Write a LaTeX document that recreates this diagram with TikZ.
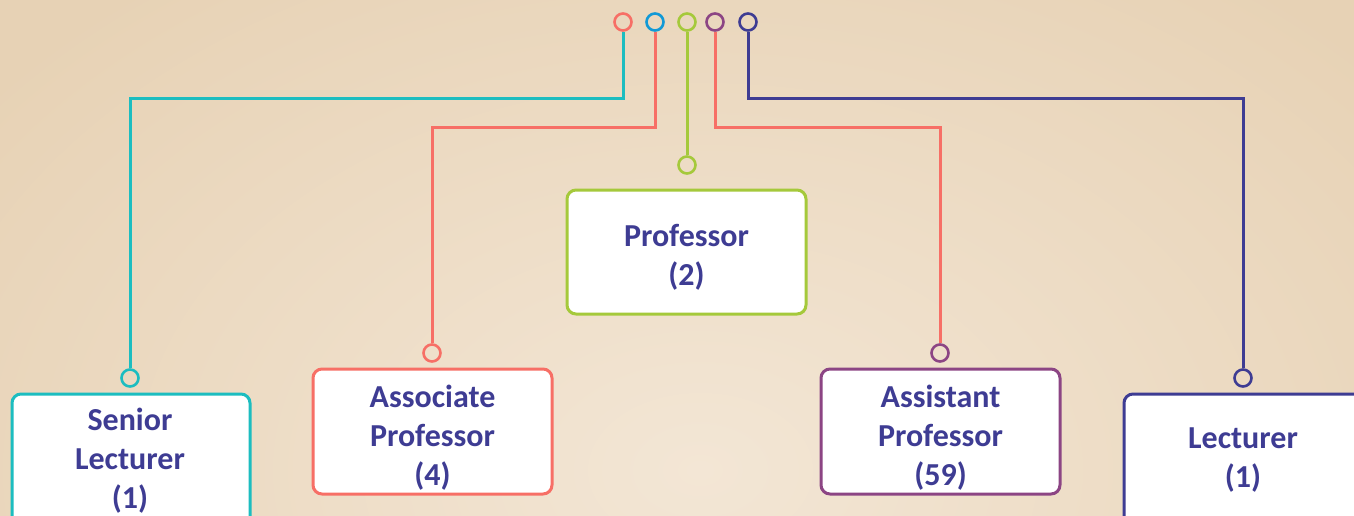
\documentclass[tikz,border=0pt]{standalone}
\usepackage{fontspec}
\setmainfont{Carlito}
\begin{document}
\begin{tikzpicture}[x=1pt,y=-1pt,
  conn/.style={line width=3pt},
  ring/.style={circle,draw,line width=2.6pt,minimum size=17pt,inner sep=0pt,fill=none},
  lbl/.style={font=\fontsize{32}{39}\selectfont\bfseries,text=navy,align=center,inner sep=0pt},
  card/.style={draw,line width=3pt,rounded corners=9pt,fill=white},
]
\definecolor{teal}{HTML}{1CBDC0}
\definecolor{salmon}{HTML}{F76F66}
\definecolor{lime}{HTML}{A5C93B}
\definecolor{plum}{HTML}{8C4584}
\definecolor{navy}{HTML}{3E3C93}
\definecolor{skyb}{HTML}{1199D6}
\definecolor{bgin}{HTML}{F3E6D5}
\definecolor{bgout}{HTML}{E7D2B5}
\useasboundingbox (0,0) rectangle (1354,515);
\begin{scope}
\clip (0,0) rectangle (1354,515);
\fill[bgout] (0,0) rectangle (1354,515);
\shade[inner color=bgin,outer color=bgout] (700,470) ellipse [x radius=900,y radius=620];
\end{scope}
% top rings
\node[ring,draw=salmon] (t1) at (623,22) {};
\node[ring,draw=skyb] (t2) at (655,22) {};
\node[ring,draw=lime] (t3) at (687,22) {};
\node[ring,draw=plum] (t4) at (715,22) {};
\node[ring,draw=navy] (t5) at (748,22) {};
% bottom rings
\node[ring,draw=teal] (b1) at (130,378) {};
\node[ring,draw=salmon] (b2) at (432,353) {};
\node[ring,draw=lime] (b3) at (687,165) {};
\node[ring,draw=plum] (b4) at (940,353) {};
\node[ring,draw=navy] (b5) at (1243,378) {};
% connectors
\draw[conn,teal] (t1.south) |- (130,98) -- (b1.north);
\draw[conn,salmon] (t2.south) |- (432,127) -- (b2.north);
\draw[conn,lime] (t3.south) -- (b3.north);
\draw[conn,salmon] (t4.south) |- (940,127) -- (b4.north);
\draw[conn,navy] (t5.south) |- (1243,98) -- (b5.north);
% cards
\draw[card,draw=teal] (12,394) rectangle (250,540);
\node[lbl] (c1) at (130,461) {Senior\\Lecturer\\(1)};
\draw[card,draw=salmon] (313,369) rectangle (552,494);
\node[lbl] (c2) at (432.5,438) {Associate\\Professor\\(4)};
\draw[card,draw=lime] (567,190) rectangle (806,314);
\node[lbl] (c3) at (686.5,257) {Professor\\(2)};
\draw[card,draw=plum] (821,369) rectangle (1060,494);
\node[lbl] (c4) at (940.5,438) {Assistant\\Professor\\(59)};
\draw[card,draw=navy] (1124,394) rectangle (1370,540);
\node[lbl] (c5) at (1243,460) {Lecturer\\(1)};
\end{tikzpicture}
\end{document}
